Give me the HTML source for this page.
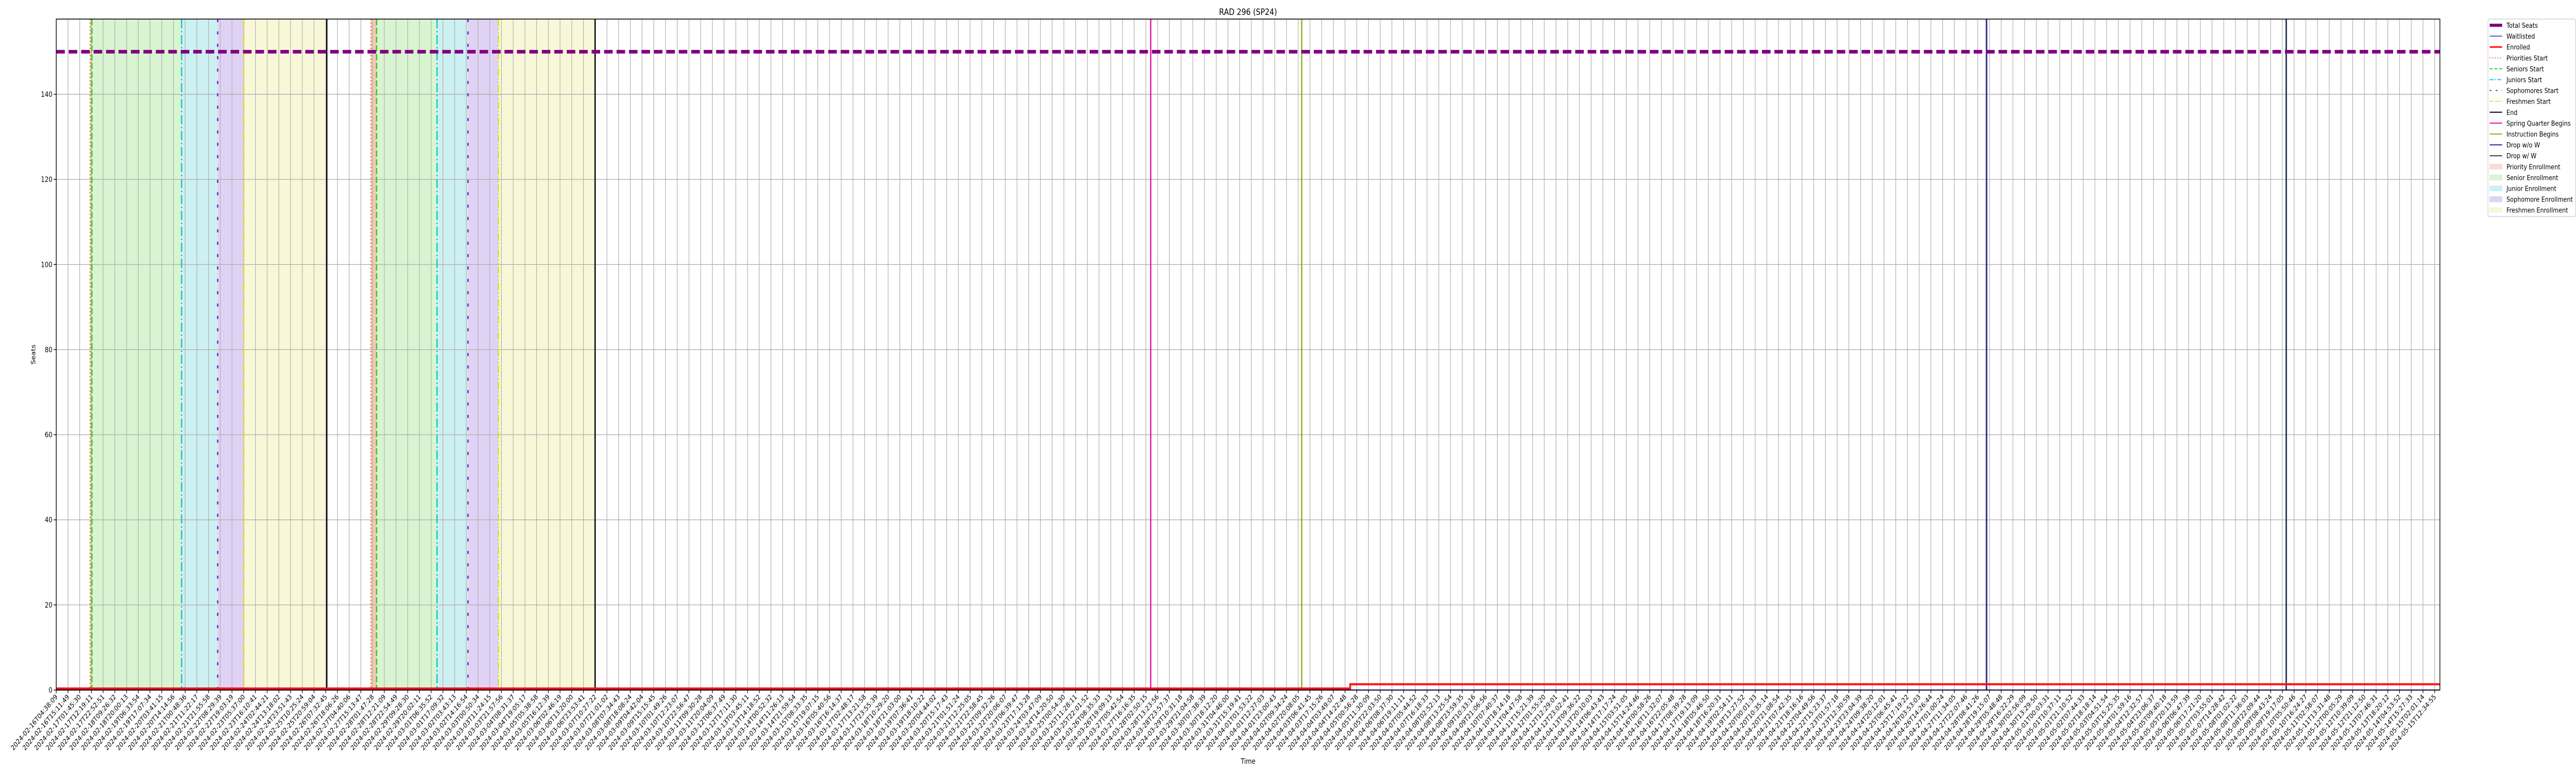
<!DOCTYPE html>
<html><head><meta charset="utf-8"><style>
html,body{margin:0;padding:0;background:#fff;width:100%;height:100%;overflow:hidden;}
svg{display:block;font-family:"DejaVu Sans","Liberation Sans",sans-serif;overflow:hidden;width:100vw;height:100vh;}
</style></head><body>
<svg id="chart" viewBox="0 0 6000 1500" preserveAspectRatio="none" xmlns="http://www.w3.org/2000/svg">
<g id="bands"></g>
<g id="grid"></g>
<g id="events"></g>
<g id="series"></g>
<g id="axes"></g>
<text x="2907" y="29" font-size="17" text-anchor="middle">RAD 296 (SP24)</text>
<text x="2907" y="1482" font-size="14" text-anchor="middle">Time</text>
<text x="82" y="688" font-size="14" text-anchor="middle" transform="rotate(-90 82 688)">Seats</text>
<g id="legend"></g>
</svg>
<script>
// ---- data ----
const startTime = "2024-02-16T04:38:09";
const endTime = "2024-05-15T12:34:55";
const tickCount = 204;
const yTicks = [0, 20, 40, 60, 80, 100, 120, 140];
const totalSeats = 150;
const enrolledIdx = [0, 110.44, 203.44];
const enrolledVal = [0, 1, 1];
const waitlistIdx = [0, 203.44];
const waitlistVal = [0, 0];
const prioStart = [2.89, 26.86];
const seniorStart = [3.04, 27.34];
const juniorStart = [10.70, 32.50];
const sophStart = [13.78, 35.14];
const freshStart = [16.01, 37.74];
const periodEnd = [23.09, 45.99];
const springBegins = 93.41;
const instructionBegins = 106.30;
const dropNoW = 164.75;
const dropW = 190.33;

// ---- scales ----
const X0 = 131, STEP = 27.29, XR = 5683, Y0 = 1339, YT = 37;
const YPER = (1339 - 183) / 140;
const xs = i => X0 + i * STEP;
const ys = v => Y0 - v * YPER;
const NS = "http://www.w3.org/2000/svg";
function mk(parent, tag, attrs) {
  const e = document.createElementNS(NS, tag);
  for (const k in attrs) e.setAttribute(k, attrs[k]);
  document.getElementById(parent).appendChild(e);
  return e;
}

const bandDefs = [
  [prioStart, seniorStart, "#f4c9b4"],
  [seniorStart, juniorStart, "#d8f4d0"],
  [juniorStart, sophStart, "#cdf0f2"],
  [sophStart, freshStart, "#e0d2f4"],
  [freshStart, periodEnd, "#f8f8d8"]
];
bandDefs.forEach(([a, b, c]) => {
  for (let k = 0; k < a.length; k++) {
    const r = mk("bands", "rect", {x: xs(a[k]), y: YT, width: xs(b[k]) - xs(a[k]), height: Y0 - YT, fill: c});
    
    
  }
});

for (let i = 0; i < tickCount; i++) {
  const l = mk("grid", "line", {x1: xs(i), x2: xs(i), y1: YT, y2: Y0, stroke: "#b0b0b0", "stroke-width": 1.4});
  
  
}
yTicks.forEach(v => {
  const l = mk("grid", "line", {x1: X0, x2: XR, y1: ys(v), y2: ys(v), stroke: "#b0b0b0", "stroke-width": 1.4});
  
  
});

function vline(i, color, dash, w, name) {
  const l = mk("events", "line", {x1: xs(i), x2: xs(i), y1: YT, y2: Y0, stroke: color, "stroke-width": w});
  if (dash) l.setAttribute("stroke-dasharray", dash);
  
  
}
prioStart.forEach(i => vline(i, "#ee6a2a", "2,5", 3, "priorities-start-line"));
seniorStart.forEach(i => vline(i, "#33cc22", "12,5", 3, "seniors-start-line"));
juniorStart.forEach(i => vline(i, "#11c8d0", "18,5,3,5", 3, "juniors-start-line"));
sophStart.forEach(i => vline(i, "#6622cc", "6,18", 3, "sophomores-start-line"));
freshStart.forEach(i => vline(i, "#dddd22", "14,4,3,4,3,4", 3, "freshmen-start-line"));
periodEnd.forEach(i => vline(i, "#000", null, 3, "end-line"));
vline(springBegins, "#e0159e", null, 3, "spring-quarter-line");
vline(instructionBegins, "#88b31a", null, 3, "instruction-begins-line");
vline(dropNoW, "#2a2a8a", null, 3.5, "drop-without-w-line");
vline(dropW, "#2a3a5a", null, 3.5, "drop-with-w-line");

function stepPath(idx, val) {
  let d = "M" + xs(idx[0]) + "," + ys(val[0]);
  for (let k = 1; k < idx.length; k++) d += " H" + xs(idx[k]) + " V" + ys(val[k]);
  return d;
}
let p = mk("series", "path", {d: stepPath(waitlistIdx, waitlistVal), stroke: "#2222ee", "stroke-width": 2, fill: "none"});


p = mk("series", "path", {d: stepPath(enrolledIdx, enrolledVal), stroke: "#ff1111", "stroke-width": 4, fill: "none", transform: "translate(0,-3)"});


p = mk("series", "line", {x1: X0, x2: XR, y1: ys(totalSeats), y2: ys(totalSeats), stroke: "#800080", "stroke-width": 7, "stroke-dasharray": "20,9"});



p = mk("axes", "rect", {x: X0, y: YT, width: XR - X0, height: Y0 - YT, fill: "none", stroke: "#000", "stroke-width": 1.6});


yTicks.forEach(v => {
  const t = mk("axes", "line", {x1: X0 - 6, x2: X0, y1: ys(v), y2: ys(v), stroke: "#000", "stroke-width": 1.4});
  
  
  const tx = mk("axes", "text", {x: X0 - 9, y: ys(v) + 5, "font-size": 14, "text-anchor": "end"});
  tx.textContent = v;
  
  
});
const t0 = Date.parse(startTime + "Z"), t1 = Date.parse(endTime + "Z");
const pad = n => String(n).padStart(2, "0");
for (let i = 0; i < tickCount; i++) {
  const t = mk("axes", "line", {x1: xs(i), x2: xs(i), y1: Y0, y2: Y0 + 6, stroke: "#000", "stroke-width": 1.4});
  
  
  const d = new Date(t0 + (t1 - t0) * i / (tickCount - 1));
  const s = d.getUTCFullYear() + "-" + pad(d.getUTCMonth() + 1) + "-" + pad(d.getUTCDate()) + "T" + pad(d.getUTCHours()) + ":" + pad(d.getUTCMinutes()) + ":" + pad(d.getUTCSeconds());
  const x = xs(i) + 4, y = Y0 + 14;
  const tx = mk("axes", "text", {x: x, y: y, "font-size": 13.5, "text-anchor": "end", transform: "rotate(-45 " + x + " " + y + ")"});
  tx.textContent = s;
  
  
}

const lg = mk("legend", "rect", {x: 5795, y: 37, width: 204, height: 383, rx: 3, fill: "#fff", stroke: "#d0d0d0", "stroke-width": 1.4});


const legendItems = [
  ["Total Seats", "line", "#800080", 6, null],
  ["Waitlisted", "line", "#2222ee", 1.5, null],
  ["Enrolled", "line", "#ff1111", 3, null],
  ["Priorities Start", "line", "#ee6a2a", 2, "2,4"],
  ["Seniors Start", "line", "#33cc22", 2, "7,4"],
  ["Juniors Start", "line", "#11c8d0", 2, "9,3,3,3"],
  ["Sophomores Start", "line", "#6622cc", 2, "4,10"],
  ["Freshmen Start", "line", "#dddd22", 2, "6,2,2,2,2,2"],
  ["End", "line", "#000", 2, null],
  ["Spring Quarter Begins", "line", "#e0159e", 2, null],
  ["Instruction Begins", "line", "#88b31a", 2, null],
  ["Drop w/o W", "line", "#2a2a8a", 2, null],
  ["Drop w/ W", "line", "#2a3a5a", 2, null],
  ["Priority Enrollment", "patch", "#f7ddd2", 0, null],
  ["Senior Enrollment", "patch", "#d8f4d0", 0, null],
  ["Junior Enrollment", "patch", "#cdf0f2", 0, null],
  ["Sophomore Enrollment", "patch", "#e0d2f4", 0, null],
  ["Freshmen Enrollment", "patch", "#f8f8d8", 0, null]
];
legendItems.forEach((it, k) => {
  const y = 49 + k * 21.1;
  let h;
  if (it[1] === "line") {
    h = mk("legend", "line", {x1: 5799, x2: 5828, y1: y, y2: y, stroke: it[2], "stroke-width": it[3]});
    if (it[4]) h.setAttribute("stroke-dasharray", it[4]);
  } else {
    h = mk("legend", "rect", {x: 5799, y: y - 5, width: 29, height: 10, fill: it[2], stroke: it[2]});
  }
  
  
  const tx = mk("legend", "text", {x: 5838, y: y + 5, "font-size": 13.5});
  tx.textContent = it[0];
  
  
});
</script>
</body></html>
